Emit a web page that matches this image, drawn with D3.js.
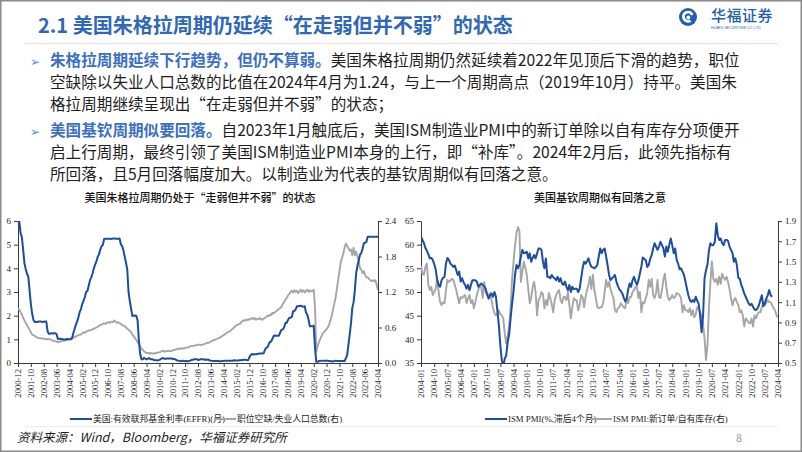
<!DOCTYPE html>
<html><head><meta charset="utf-8">
<script src="https://cdn.jsdelivr.net/npm/d3@7"></script>
<style>
html,body{margin:0;padding:0;background:#fff;}
svg{display:block;}
</style></head>
<body>
<svg id="slide" width="802" height="452"></svg>
<script>
// ---------------- DATA ----------------
// Left chart: monthly, 2000-12 .. 2024-04 (281 points)
const effr = [
6.40,
5.98,5.49,5.31,4.80,4.21,3.97,3.77,3.65,3.07,2.49,2.09,1.82,
1.73,1.74,1.73,1.75,1.75,1.75,1.73,1.74,1.75,1.75,1.34,1.24,
1.24,1.26,1.25,1.26,1.26,1.22,1.01,1.03,1.01,1.01,1.00,0.98,
1.00,1.01,1.00,1.00,1.00,1.03,1.26,1.43,1.61,1.76,1.93,2.16,
2.28,2.50,2.63,2.79,3.00,3.04,3.26,3.50,3.62,3.78,4.00,4.16,
4.29,4.49,4.59,4.79,4.94,4.99,5.24,5.25,5.25,5.25,5.25,5.24,
5.25,5.26,5.26,5.25,5.25,5.25,5.26,5.02,4.94,4.76,4.49,4.24,
3.94,2.98,2.61,2.28,1.98,2.00,2.01,2.00,1.81,0.97,0.39,0.16,
0.15,0.22,0.18,0.15,0.18,0.21,0.16,0.16,0.15,0.12,0.12,0.12,
0.11,0.13,0.16,0.20,0.20,0.18,0.18,0.19,0.19,0.19,0.19,0.18,
0.17,0.16,0.14,0.10,0.09,0.09,0.07,0.10,0.08,0.07,0.08,0.07,
0.08,0.10,0.13,0.14,0.16,0.16,0.16,0.13,0.14,0.16,0.16,0.16,
0.14,0.15,0.14,0.15,0.11,0.09,0.09,0.08,0.08,0.09,0.08,0.09,
0.07,0.07,0.08,0.09,0.09,0.10,0.09,0.09,0.09,0.09,0.09,0.12,
0.11,0.11,0.11,0.12,0.12,0.13,0.13,0.14,0.14,0.12,0.12,0.24,
0.34,0.38,0.36,0.37,0.37,0.38,0.39,0.40,0.40,0.40,0.41,0.54,
0.65,0.66,0.79,0.90,0.91,1.04,1.15,1.16,1.15,1.15,1.16,1.30,
1.41,1.42,1.51,1.69,1.70,1.82,1.91,1.91,1.95,2.19,2.20,2.27,
2.40,2.40,2.41,2.42,2.39,2.38,2.40,2.13,2.04,1.83,1.55,1.55,
1.55,1.58,0.65,0.05,0.05,0.08,0.09,0.10,0.09,0.09,0.09,0.09,
0.09,0.08,0.07,0.07,0.06,0.08,0.10,0.09,0.08,0.08,0.08,0.08,
0.08,0.08,0.20,0.33,0.77,1.21,1.68,2.33,2.56,3.08,3.78,4.10,
4.33,4.57,4.65,4.83,5.06,5.08,5.12,5.33,5.33,5.33,5.33,5.33,
5.33,5.33,5.33,5.33
];
const vacancyRatio = [
0.93,
0.90,0.86,0.82,0.76,0.72,0.68,0.64,0.60,0.56,0.52,0.48,0.47,
0.46,0.44,0.43,0.42,0.42,0.41,0.42,0.41,0.40,0.41,0.40,0.41,
0.40,0.39,0.38,0.37,0.37,0.36,0.35,0.36,0.36,0.37,0.38,0.38,
0.39,0.39,0.40,0.40,0.42,0.43,0.44,0.43,0.45,0.46,0.47,0.48,
0.48,0.50,0.52,0.51,0.53,0.54,0.55,0.55,0.56,0.57,0.58,0.59,
0.60,0.61,0.63,0.64,0.65,0.66,0.67,0.66,0.68,0.69,0.68,0.69,
0.70,0.69,0.72,0.70,0.68,0.69,0.67,0.66,0.64,0.63,0.62,0.60,
0.58,0.56,0.54,0.52,0.48,0.45,0.42,0.39,0.35,0.32,0.28,0.25,
0.22,0.20,0.18,0.17,0.17,0.16,0.17,0.16,0.16,0.16,0.17,0.17,
0.18,0.18,0.19,0.20,0.21,0.19,0.20,0.20,0.21,0.20,0.20,0.21,
0.22,0.22,0.23,0.24,0.23,0.25,0.24,0.25,0.24,0.26,0.26,0.26,
0.27,0.28,0.29,0.29,0.29,0.30,0.30,0.31,0.31,0.30,0.31,0.31,
0.32,0.33,0.34,0.34,0.35,0.36,0.37,0.39,0.39,0.40,0.41,0.42,
0.43,0.44,0.46,0.47,0.49,0.50,0.52,0.53,0.54,0.56,0.58,0.60,
0.62,0.64,0.65,0.66,0.67,0.70,0.72,0.71,0.73,0.72,0.74,0.73,
0.75,0.76,0.74,0.76,0.73,0.75,0.74,0.76,0.74,0.73,0.75,0.76,
0.78,0.80,0.79,0.82,0.81,0.85,0.84,0.86,0.88,0.90,0.91,0.93,
0.95,1.00,1.03,1.07,1.10,1.14,1.17,1.20,1.22,1.19,1.23,1.20,
1.22,1.18,1.21,1.24,1.20,1.23,1.19,1.22,1.24,1.20,1.23,1.21,
1.22,1.24,0.95,0.19,0.28,0.35,0.40,0.45,0.50,0.52,0.55,0.57,
0.60,0.65,0.72,0.80,0.90,1.00,1.10,1.25,1.40,1.55,1.70,1.78,
1.85,1.95,2.02,1.98,1.94,1.90,1.92,1.82,1.95,1.82,1.88,1.80,
1.72,1.60,1.58,1.52,1.55,1.48,1.45,1.45,1.42,1.40,1.38,1.40,
1.38,1.40,1.32,1.24
];
const leftTickLabels = ["2000-12","2001-10","2002-08","2003-06","2004-04","2005-02","2005-12","2006-10","2007-08","2008-06","2009-04","2010-02","2010-12","2011-10","2012-08","2013-06","2014-04","2015-02","2015-12","2016-10","2017-08","2018-06","2019-04","2020-02","2020-12","2021-10","2022-08","2023-06","2024-04"];
const leftYTicks = [0,1,2,3,4,5,6];
const leftY2Ticks = [0.0,0.6,1.2,1.8,2.4];

// Right chart: monthly, 2004-01 .. 2024-04 (244 points); PMI (lagged) ends 2023-12
const pmiLagged = [
61.7,61.0,60.3,59.3,58.7,58.0,57.1,57.2,56.8,55.9,54.8,52.5,
51.5,51.1,52.5,53.0,53.2,56.0,57.2,56.8,56.0,55.7,55.3,55.6,
54.6,53.6,54.3,52.2,52.9,52.0,51.5,50.7,51.5,50.4,51.5,52.5,
52.5,52.5,52.2,51.1,51.5,51.8,51.5,51.2,50.7,49.5,48.6,49.3,
49.7,49.0,50.0,49.0,46.0,43.0,38.7,35.6,34.3,35.9,36.6,39.4,
41.0,44.5,47.5,50.2,53.6,55.7,55.0,55.8,57.5,58.9,58.2,58.3,
58.5,57.1,58.2,56.4,57.2,57.8,57.1,58.2,59.2,59.2,58.9,56.4,
55.0,57.1,53.2,53.2,52.9,53.6,53.1,52.9,52.5,53.2,52.2,52.9,
51.8,51.5,52.2,51.1,50.4,51.5,50.0,51.1,50.6,50.7,50.7,50.0,
50.7,52.9,55.0,56.4,56.0,56.5,57.1,56.0,55.3,55.2,55.0,55.3,
55.7,57.5,59.2,58.2,58.9,59.2,57.5,55.7,53.6,52.5,52.9,53.2,
53.6,52.2,51.3,50.6,50.2,49.7,48.8,48.0,48.6,50.5,51.8,51.1,
52.5,53.2,52.2,51.5,52.5,53.9,55.4,57.3,57.0,56.7,55.3,55.7,
57.0,57.8,59.2,60.3,59.6,58.9,59.6,60.6,59.9,59.2,57.5,59.6,
58.5,60.0,61.3,59.9,58.2,59.2,56.8,56.0,54.8,55.0,54.3,53.6,
52.2,50.7,49.3,48.3,47.9,48.3,47.9,49.0,48.2,47.5,45.0,41.5,
45.0,52.9,54.6,55.8,58.8,60.3,59.9,59.9,60.6,64.5,62.0,61.0,
61.3,60.3,59.9,61.0,61.0,60.8,59.6,58.9,58.2,56.4,57.1,55.7,
53.0,52.8,51.5,50.7,49.7,49.0,48.3,47.6,47.2,47.5,46.9,46.3,
46.2,46.5,47.2,48.3,49.3,47.0,47.6,48.6,49.3,50.4,49.3,49.0
];
const newOrdersToInv = [
1.46,1.38,1.37,1.45,1.48,1.27,1.22,1.25,1.17,1.20,1.23,1.33,
1.20,1.10,1.07,1.10,1.09,1.22,1.32,1.30,1.31,1.33,1.32,1.27,
1.22,1.15,1.09,1.15,1.14,1.16,1.17,1.09,1.14,1.17,1.09,1.12,
1.04,1.10,1.17,1.22,1.27,1.25,1.14,1.30,1.20,1.17,1.17,1.19,
1.12,1.04,0.99,0.97,0.99,1.02,0.98,0.97,0.94,0.79,0.69,0.77,
0.86,1.05,1.33,1.50,1.66,1.78,1.84,1.80,1.30,1.40,1.50,1.44,
1.37,1.23,1.09,1.14,1.25,1.30,1.20,0.97,1.12,1.15,1.20,1.18,
1.04,1.12,1.07,1.19,1.14,1.08,1.00,1.12,1.17,1.20,1.22,1.12,
1.09,1.15,1.15,1.12,1.20,1.07,0.94,1.05,1.14,1.12,1.12,1.02,
1.07,1.17,1.15,1.05,1.15,1.22,1.27,1.35,1.23,1.37,1.22,1.14,
1.05,1.04,1.05,1.05,1.09,1.20,1.32,1.25,1.30,1.23,1.18,1.14,
1.02,1.00,1.04,1.05,1.09,1.07,1.05,1.04,1.14,1.09,1.15,1.15,
1.20,1.22,1.25,1.25,1.14,1.20,1.00,1.10,1.09,1.14,1.19,1.32,
1.25,1.33,1.17,1.14,1.19,1.32,1.15,1.14,1.22,1.32,1.38,1.25,
1.15,1.12,1.14,1.17,1.14,1.15,1.19,1.18,1.17,1.14,1.00,1.07,
1.02,1.02,1.00,1.04,0.97,1.02,0.95,0.98,1.05,1.04,1.00,0.97,
0.88,0.74,0.53,0.68,1.05,1.30,1.50,1.33,1.30,1.33,1.27,1.35,
1.28,1.38,1.34,1.32,1.35,1.30,1.23,1.14,1.07,1.12,1.14,1.10,
1.07,1.00,1.02,0.97,0.86,0.94,0.92,0.90,0.89,0.94,0.86,0.97,
0.94,0.98,1.00,1.00,1.05,1.09,1.07,1.09,1.12,1.10,1.10,1.07,
1.04,1.02,0.97,0.95
];
const rightTickLabels = ["2004-01","2004-10","2005-07","2006-04","2007-01","2007-10","2008-07","2009-04","2010-01","2010-10","2011-07","2012-04","2013-01","2013-10","2014-07","2015-04","2016-01","2016-10","2017-07","2018-04","2019-01","2019-10","2020-07","2021-04","2022-01","2022-10","2023-07","2024-04"];
const rightYTicks = [35,40,45,50,55,60,65];
const rightY2Ticks = [0.5,0.7,0.9,1.1,1.3,1.5,1.7,1.9];

const leftLegend = ["美国:有效联邦基金利率(EFFR)(月)","职位空缺/失业人口总数(右)"];
const rightLegend = ["ISM PMI(%,滞后4个月)","ISM PMI:新订单/自有库存(右)"];

// ---------------- STYLE ----------------
const BLUE_LINE = "#1C4DA1";
const GRAY_LINE = "#A6A6A6";
const TITLE_BLUE = "#2F68B8";
const HL_BLUE = "#3C6FC3";
const TEXT = "#1e1e1e";
const SANS = "'Noto Sans CJK SC','Noto Sans',sans-serif";
const SERIF = "'Liberation Serif','Noto Sans CJK SC',serif";

const svg = d3.select("#slide");
svg.append("rect").attr("x",0.75).attr("y",0.75).attr("width",800.5).attr("height",450.5)
  .attr("fill","#fff").attr("stroke","#8a8a8a").attr("stroke-width",1.5);

// Title
svg.append("text").attr("x",38).attr("y",33)
  .attr("font-family",SANS).attr("font-size",20).attr("font-weight",700).attr("fill",TITLE_BLUE)
  .text("2.1 美国朱格拉周期仍延续“在走弱但并不弱”的状态");
svg.append("line").attr("x1",25).attr("x2",778).attr("y1",43.5).attr("y2",43.5)
  .attr("stroke","#e3e3e3").attr("stroke-width",1);

// Logo
const logo = svg.append("g").attr("transform","translate(688,17)");
logo.append("circle").attr("r",9).attr("fill","#1F5FB0");
logo.append("path").attr("d","M5.5,-2.5 A6,6 0 1 0 3.5,4.5 L1.5,2.5 A3.2,3.2 0 1 1 3,-1.5 Z").attr("fill","#fff");
logo.append("circle").attr("r",2).attr("cx",0.3).attr("cy",0.6).attr("fill","#fff");
svg.append("text").attr("x",711).attr("y",21).attr("font-family",SANS).attr("font-size",15)
  .attr("font-weight",500).attr("fill","#1F5FB0").attr("letter-spacing",0.5).text("华福证券");
svg.append("text").attr("x",711).attr("y",28.5).attr("font-family","'Liberation Sans',sans-serif").attr("font-size",3.6)
  .attr("fill","#1F5FB0").text("HUAFU SECURITIES CO.,LTD");

// Body text
function para(y0, lines){
  lines.forEach((segs,i)=>{
    const t = svg.append("text").attr("x",50).attr("y",y0 + i*21.8)
      .attr("font-family",SANS).attr("font-size",15.6).attr("fill",TEXT);
    segs.forEach(s=>{
      t.append("tspan").text(s.t).attr("fill",s.hl?HL_BLUE:TEXT).attr("font-weight",s.hl?700:400);
    });
  });
}
function bullet(y){
  svg.append("text").attr("x",30).attr("y",y).attr("font-family","'DejaVu Sans',sans-serif")
    .attr("font-size",12).attr("fill","#5B8FD0").text("➢");
}
bullet(66); bullet(136);
para(66, [
  [{t:"朱格拉周期延续下行趋势，但仍不算弱。",hl:true},{t:"美国朱格拉周期仍然延续着2022年见顶后下滑的趋势，职位"}],
  [{t:"空缺除以失业人口总数的比值在2024年4月为1.24，与上一个周期高点（2019年10月）持平。美国朱"}],
  [{t:"格拉周期继续呈现出“在走弱但并不弱”的状态；"}]
]);
para(136, [
  [{t:"美国基钦周期似要回落。",hl:true},{t:"自2023年1月触底后，美国ISM制造业PMI中的新订单除以自有库存分项便开"}],
  [{t:"启上行周期，最终引领了美国ISM制造业PMI本身的上行，即“补库”。2024年2月后，此领先指标有"}],
  [{t:"所回落，且5月回落幅度加大。以制造业为代表的基钦周期似有回落之意。"}]
]);

// Footer
svg.append("line").attr("x1",25).attr("x2",778).attr("y1",426.5).attr("y2",426.5)
  .attr("stroke","#ececec").attr("stroke-width",1);
svg.append("text").attr("x",17).attr("y",442).attr("font-family",SANS).attr("font-size",12.5)
  .attr("font-style","italic").attr("fill",TEXT).text("资料来源：Wind，Bloomberg，华福证券研究所");
svg.append("text").attr("x",736).attr("y",442).attr("font-family",SANS).attr("font-size",11)
  .attr("fill","#a0a0a0").text("8");

// ---------------- CHARTS ----------------
function chart(opt){
  const g = svg.append("g");
  const x = d3.scaleLinear().domain([0, opt.n-1]).range([opt.x0, opt.x1]);
  const y = d3.scaleLinear().domain(opt.yDomain).range([opt.yb, opt.yt]);
  const y2 = d3.scaleLinear().domain(opt.y2Domain).range([opt.yb, opt.yt]);
  const clipId = "clip"+opt.id;
  svg.append("clipPath").attr("id",clipId).append("rect")
    .attr("x",opt.x0).attr("y",opt.yt).attr("width",opt.x1-opt.x0).attr("height",opt.yb-opt.yt);

  // title
  g.append("text").attr("x",opt.cx).attr("y",202).attr("text-anchor","middle")
    .attr("font-family",SANS).attr("font-size",11).attr("font-weight",500).attr("fill","#111").text(opt.title);

  const axStyle = sel => {
    sel.select(".domain").attr("stroke","#3a3a3a");
    sel.selectAll(".tick line").attr("stroke","#3a3a3a");
    sel.selectAll(".tick text").attr("font-family",SERIF).attr("font-size",9).attr("fill","#222");
  };
  g.append("g").attr("transform",`translate(${opt.x0},0)`)
    .call(d3.axisLeft(y).tickValues(opt.yTicks).tickSize(4).tickSizeOuter(0).tickPadding(3).tickFormat(opt.yFmt))
    .call(axStyle);
  g.append("g").attr("transform",`translate(${opt.x1},0)`)
    .call(d3.axisRight(y2).tickValues(opt.y2Ticks).tickSize(4).tickSizeOuter(0).tickPadding(3).tickFormat(opt.y2Fmt))
    .call(axStyle);
  const tickIdx = opt.tickLabels.map((d,i)=>i*opt.step);
  const xa = g.append("g").attr("transform",`translate(0,${opt.yb})`)
    .call(d3.axisBottom(x).tickValues(tickIdx).tickSize(4).tickSizeOuter(0)
      .tickFormat((d,i)=>opt.tickLabels[i]))
    .call(axStyle);
  xa.selectAll(".tick text").attr("transform","rotate(-90)").attr("x",-6).attr("y",0)
    .attr("dy","0.32em").style("text-anchor","end").attr("font-size",8.6);

  const line = (sc)=> d3.line().x((d,i)=>x(i)).y(d=>sc(d));
  const pg = g.append("g").attr("clip-path",`url(#${clipId})`);
  pg.append("path").datum(opt.s2).attr("d",line(y2)).attr("fill","none")
    .attr("stroke",GRAY_LINE).attr("stroke-width",1.9).attr("stroke-linejoin","round");
  pg.append("path").datum(opt.s1).attr("d",line(y)).attr("fill","none")
    .attr("stroke",BLUE_LINE).attr("stroke-width",2).attr("stroke-linejoin","round");

  // legend
  const lg = g.append("g");
  const ly = 419;
  lg.append("line").attr("x1",opt.lg[0]).attr("x2",opt.lg[1]).attr("y1",ly).attr("y2",ly)
    .attr("stroke",BLUE_LINE).attr("stroke-width",2);
  lg.append("text").attr("x",opt.lg[1]+1).attr("y",ly+3).attr("font-family",SERIF).attr("font-size",8.8)
    .attr("fill","#222").text(opt.legend[0]);
  lg.append("line").attr("x1",opt.lg[2]).attr("x2",opt.lg[3]).attr("y1",ly).attr("y2",ly)
    .attr("stroke",GRAY_LINE).attr("stroke-width",2);
  lg.append("text").attr("x",opt.lg[3]+1).attr("y",ly+3).attr("font-family",SERIF).attr("font-size",8.8)
    .attr("fill","#222").text(opt.legend[1]);
}

chart({id:"L", n:effr.length, x0:18, x1:378, yt:221, yb:363, cx:200,
  yDomain:[0,6], y2Domain:[0,2.4], yTicks:leftYTicks, y2Ticks:leftY2Ticks,
  yFmt:d3.format("d"), y2Fmt:d3.format(".1f"),
  tickLabels:leftTickLabels, step:10, s1:effr, s2:vacancyRatio,
  title:"美国朱格拉周期仍处于“走弱但并不弱”的状态", legend:leftLegend, lg:[70,92,214,236]});

chart({id:"R", n:newOrdersToInv.length, x0:421, x1:778, yt:221, yb:363, cx:600,
  yDomain:[35,65], y2Domain:[0.5,1.9], yTicks:rightYTicks, y2Ticks:rightY2Ticks,
  yFmt:d3.format("d"), y2Fmt:d3.format(".1f"),
  tickLabels:rightTickLabels, step:9, s1:pmiLagged, s2:newOrdersToInv,
  title:"美国基钦周期似有回落之意", legend:rightLegend, lg:[485,507,590,612]});
</script>
</body></html>
